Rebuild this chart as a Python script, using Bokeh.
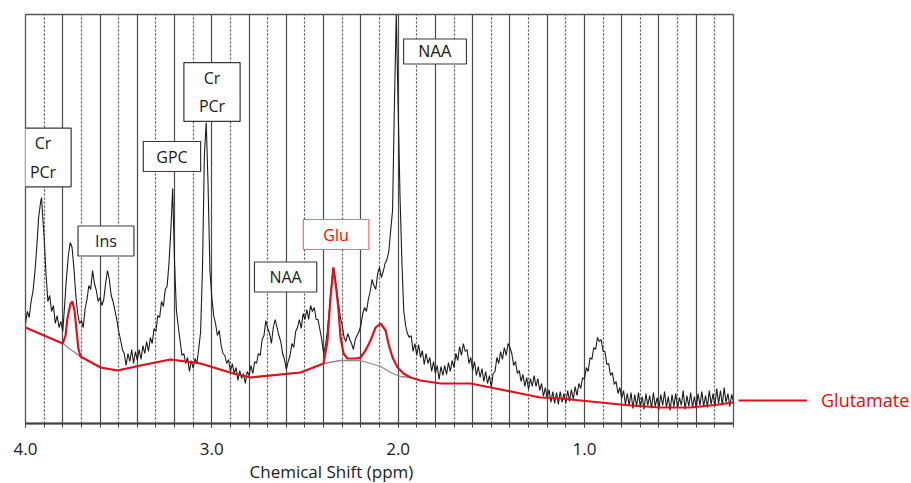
from bokeh.plotting import figure
from bokeh.models import Range1d, FixedTicker, Grid, Label, Legend, LegendItem, PrintfTickFormatter, Title
from bokeh.embed import file_html
from bokeh.resources import INLINE

# ---------------- data ----------------
# (chemical shift in ppm, signal intensity in arbitrary units)
spectrum_points = [
    (4.00, 100), (3.99, 112), (3.98, 106), (3.97, 122), (3.96, 132), (3.95, 150), (3.94, 175),
    (3.93, 205), (3.92, 220), (3.914, 226), (3.91, 214), (3.90, 186), (3.89, 150), (3.88, 122),
    (3.87, 128), (3.86, 112), (3.85, 118), (3.84, 100), (3.83, 108), (3.82, 96), (3.81, 102),
    (3.80, 92), (3.79, 118), (3.78, 146), (3.77, 168), (3.76, 181), (3.75, 176), (3.74, 155),
    (3.73, 128), (3.72, 110), (3.71, 100), (3.70, 103), (3.69, 96), (3.68, 115), (3.67, 124),
    (3.66, 138), (3.65, 134), (3.64, 153), (3.63, 140), (3.62, 133), (3.61, 122), (3.60, 126),
    (3.59, 118), (3.58, 124), (3.57, 140), (3.56, 153), (3.55, 144), (3.54, 128), (3.53, 122),
    (3.52, 113), (3.51, 104), (3.50, 92), (3.49, 84), (3.48, 74), (3.47, 70), (3.46, 58),
    (3.45, 70), (3.44, 62), (3.43, 74), (3.42, 60), (3.41, 72), (3.40, 63), (3.39, 74),
    (3.38, 64), (3.37, 78), (3.36, 70), (3.35, 82), (3.34, 72), (3.33, 86), (3.32, 80),
    (3.31, 95), (3.30, 92), (3.29, 108), (3.28, 106), (3.27, 122), (3.26, 117), (3.25, 134),
    (3.24, 137), (3.23, 160), (3.22, 193), (3.21, 235), (3.20, 161), (3.19, 113), (3.18, 97),
    (3.17, 82), (3.16, 68), (3.15, 70), (3.14, 60), (3.13, 66), (3.12, 52), (3.11, 63),
    (3.10, 55), (3.09, 65), (3.08, 60), (3.07, 75), (3.06, 92), (3.05, 156), (3.04, 268),
    (3.03, 301), (3.02, 238), (3.01, 153), (3.00, 126), (2.99, 108), (2.98, 100), (2.97, 88),
    (2.96, 93), (2.95, 78), (2.94, 70), (2.93, 68), (2.92, 60), (2.91, 64), (2.90, 52),
    (2.89, 60), (2.88, 50), (2.87, 56), (2.86, 43), (2.85, 53), (2.84, 45), (2.83, 50),
    (2.82, 40), (2.81, 52), (2.80, 48), (2.79, 58), (2.78, 50), (2.77, 62), (2.76, 60),
    (2.75, 70), (2.74, 68), (2.73, 84), (2.72, 88), (2.71, 103), (2.70, 95), (2.69, 90),
    (2.68, 80), (2.67, 96), (2.66, 104), (2.65, 96), (2.64, 88), (2.63, 82), (2.62, 70),
    (2.61, 64), (2.60, 54), (2.59, 62), (2.58, 68), (2.57, 80), (2.56, 76), (2.55, 92),
    (2.54, 96), (2.53, 104), (2.52, 95), (2.51, 110), (2.50, 104), (2.49, 114), (2.48, 104),
    (2.47, 118), (2.46, 112), (2.45, 116), (2.44, 104), (2.43, 104), (2.42, 94), (2.41, 84),
    (2.40, 70), (2.39, 78), (2.38, 92), (2.37, 112), (2.36, 133), (2.35, 156), (2.34, 148),
    (2.33, 134), (2.32, 120), (2.31, 106), (2.30, 98), (2.29, 86), (2.28, 82), (2.27, 90),
    (2.26, 84), (2.25, 80), (2.24, 74), (2.23, 84), (2.22, 88), (2.21, 92), (2.20, 98),
    (2.19, 110), (2.18, 116), (2.17, 112), (2.16, 124), (2.15, 132), (2.14, 144), (2.13, 138),
    (2.12, 134), (2.11, 150), (2.10, 156), (2.09, 146), (2.08, 152), (2.07, 160), (2.06, 164),
    (2.05, 172), (2.04, 193), (2.03, 213), (2.02, 318), (2.01, 410), (2.00, 316), (1.99, 228),
    (1.98, 163), (1.97, 113), (1.96, 98), (1.95, 90), (1.94, 86), (1.93, 88), (1.92, 72),
    (1.91, 80), (1.90, 68), (1.89, 79), (1.88, 66), (1.87, 73), (1.86, 59), (1.85, 70),
    (1.84, 60), (1.83, 66), (1.82, 52), (1.81, 62), (1.80, 50), (1.79, 58), (1.78, 44),
    (1.77, 57), (1.76, 48), (1.75, 58), (1.74, 49), (1.73, 61), (1.72, 52), (1.71, 63),
    (1.70, 56), (1.69, 70), (1.68, 63), (1.67, 77), (1.66, 68), (1.65, 80), (1.64, 72),
    (1.63, 74), (1.62, 60), (1.61, 66), (1.60, 53), (1.59, 62), (1.58, 48), (1.57, 57),
    (1.56, 46), (1.55, 55), (1.54, 42), (1.53, 52), (1.52, 40), (1.51, 48), (1.50, 36),
    (1.49, 50), (1.48, 52), (1.47, 66), (1.46, 60), (1.45, 72), (1.44, 64), (1.43, 76),
    (1.42, 68), (1.41, 80), (1.40, 76), (1.39, 70), (1.38, 58), (1.37, 62), (1.36, 50),
    (1.35, 53), (1.34, 42), (1.33, 49), (1.32, 37), (1.31, 46), (1.30, 34), (1.29, 45),
    (1.28, 37), (1.27, 48), (1.26, 37), (1.25, 45), (1.24, 33), (1.23, 40), (1.22, 27),
    (1.21, 36), (1.20, 25), (1.19, 34), (1.18, 21), (1.17, 32), (1.16, 20), (1.15, 31),
    (1.14, 19), (1.13, 32), (1.12, 21), (1.11, 30), (1.10, 20), (1.09, 33), (1.08, 22),
    (1.07, 34), (1.06, 24), (1.05, 37), (1.04, 28), (1.03, 40), (1.02, 35), (1.01, 46),
    (1.00, 44), (0.99, 56), (0.98, 52), (0.97, 66), (0.96, 64), (0.95, 76), (0.94, 74),
    (0.93, 86), (0.92, 82), (0.91, 84), (0.90, 72), (0.89, 72), (0.88, 59), (0.87, 60),
    (0.86, 48), (0.85, 51), (0.84, 39), (0.83, 42), (0.82, 30), (0.81, 36), (0.80, 25),
    (0.79, 33), (0.78, 19), (0.77, 30), (0.76, 18), (0.75, 31), (0.74, 15), (0.73, 29),
    (0.72, 17), (0.71, 31), (0.70, 16), (0.69, 27), (0.68, 14), (0.67, 30), (0.66, 18),
    (0.65, 28), (0.64, 15), (0.63, 31), (0.62, 17), (0.61, 26), (0.60, 14), (0.59, 29),
    (0.58, 18), (0.57, 32), (0.56, 16), (0.55, 27), (0.54, 13), (0.53, 29), (0.52, 17),
    (0.51, 30), (0.50, 15), (0.49, 26), (0.48, 18), (0.47, 33), (0.46, 14), (0.45, 28),
    (0.44, 17), (0.43, 31), (0.42, 16), (0.41, 27), (0.40, 15), (0.39, 30), (0.38, 18),
    (0.37, 32), (0.36, 17), (0.35, 28), (0.34, 16), (0.33, 33), (0.32, 19), (0.31, 30),
    (0.30, 17), (0.29, 35), (0.28, 20), (0.27, 33), (0.26, 18), (0.25, 36), (0.24, 21),
    (0.23, 30), (0.22, 17), (0.21, 29), (0.20, 22),
]
ppm = [pt[0] for pt in spectrum_points]
spectrum = [pt[1] for pt in spectrum_points]

fit_ppm = [4.00, 3.80, 3.785, 3.775, 3.758, 3.748, 3.737, 3.726, 3.716, 3.705, 3.597, 3.506,
           3.383, 3.222, 3.061, 2.884, 2.792, 2.524, 2.400, 2.379, 2.363, 2.347, 2.331, 2.320,
           2.309, 2.293, 2.272, 2.229, 2.202, 2.175, 2.148, 2.121, 2.094, 2.067, 2.052, 2.030,
           2.003, 1.971, 1.933, 1.880, 1.772, 1.611, 1.504, 1.343, 1.236, 1.128, 1.021, 0.914,
           0.753, 0.592, 0.431, 0.323, 0.200]
fit = [96, 80, 88, 105, 120, 122, 113, 93, 75, 67, 56, 53,
       58, 64, 60, 50, 46, 51, 60, 83, 126, 156, 133, 113,
       86, 70, 65, 65, 66, 73, 83, 96, 100, 93, 80, 66,
       56, 50, 46, 43, 40, 40, 36, 30, 26, 25, 23, 21,
       18, 16, 16, 18, 21]

base_ppm = [4.00, 3.80, 3.758, 3.705, 3.597, 3.506, 3.383, 3.222, 3.061, 2.884, 2.792, 2.524,
            2.400, 2.309, 2.282, 2.202, 2.094, 2.030, 1.987, 1.933]
base = [96, 80, 74, 67, 56, 53, 58, 64, 60, 50, 46, 51,
        60, 63, 63, 63, 57, 50, 47, 46]

peak_labels = ["Cr\nPCr", "GPC", "Cr\nPCr", "Ins", "NAA", "Glu", "NAA"]
label_ppm = [3.906, 3.214, 2.999, 3.568, 2.604, 2.333, 1.802]
label_int = [266, 267, 331.5, 182.5, 146.5, 189, 372]

major_ticks = [4.0, 3.0, 2.0, 1.0]
solid_grid = [4.0, 3.8, 3.6, 3.4, 3.2, 3.0, 2.8, 2.6, 2.4, 2.2, 2.0, 1.8, 1.6, 1.4, 1.2,
              1.0, 0.8, 0.6, 0.4, 0.2]
dotted_grid = [3.9, 3.7, 3.5, 3.3, 3.1, 2.9, 2.7, 2.5, 2.3, 2.1, 1.9, 1.7, 1.5, 1.3, 1.1,
               0.9, 0.7, 0.5, 0.3]
x_title = "Chemical Shift (ppm)"
legend_label = "Glutamate"

# ---------------- figure ----------------
p = figure(frame_width=708, frame_height=409,
           x_range=Range1d(4.0, 0.2), y_range=Range1d(0, 409),
           output_backend="svg", toolbar_location=None, y_axis_location=None,
           min_border_left=25, min_border_right=178, min_border_top=14, min_border_bottom=10)
p.background_fill_color = "white"
p.border_fill_color = "white"
p.outline_line_color = "#555555"
p.outline_line_width = 1.3

p.ygrid.visible = False
p.xgrid.ticker = FixedTicker(ticks=solid_grid)
p.xgrid.grid_line_color = "#4a4a4a"
p.xgrid.grid_line_width = 1.2
dot = Grid(dimension=0, ticker=FixedTicker(ticks=dotted_grid),
           grid_line_color="#4a4a4a", grid_line_dash="2 2", grid_line_width=1.2)
p.add_layout(dot)

ax = p.xaxis[0]
ax.ticker = FixedTicker(ticks=major_ticks, minor_ticks=solid_grid + dotted_grid)
ax.formatter = PrintfTickFormatter(format="%.1f")
ax.axis_line_width = 2
ax.axis_line_color = "#444444"
ax.major_tick_in = 0
ax.major_tick_out = 4
ax.minor_tick_in = 0
ax.minor_tick_out = 4
ax.major_tick_line_color = "#444444"
ax.minor_tick_line_color = "#444444"
ax.major_label_standoff = 15
ax.major_label_text_font = "Open Sans"
ax.major_label_text_font_size = "17px"
ax.major_label_text_color = "#1a1a1a"

p.line(ppm, spectrum, line_color="#1a1a1a", line_width=1.1)
p.line(base_ppm, base, line_color="#8a8a8a", line_width=1.3)
red = p.line(fit_ppm, fit, line_color="#e3101a", line_width=2.2)

for i, txt in enumerate(peak_labels):
    is_glu = txt == "Glu"
    hp = {"Cr\nPCr": 15, "GPC": 13, "Ins": 17, "NAA": 15, "Glu": 20}[txt]
    lab = Label(x=label_ppm[i], y=label_int[i], text=txt,
                text_align="center", text_baseline="middle",
                text_font="Liberation Sans" if i == 6 else "Open Sans",
                text_font_size="16px", text_line_height=1.3,
                text_color="#ff0000" if is_glu else "#1a1a1a",
                background_fill_color="white",
                border_line_color="#ff6a6a" if is_glu else "#3a3a3a",
                border_line_width=1.2, padding=(hp, 4))
    p.add_layout(lab)

p.add_layout(Title(text=x_title, align="left", offset=224, text_font="Open Sans",
                   text_font_size="17px", text_font_style="normal", text_color="#1a1a1a",
                   standoff=0), "below")

legend = Legend(items=[LegendItem(label=legend_label, renderers=[red])],
                location=(5, 11), glyph_width=69, glyph_height=20, label_standoff=14,
                label_text_color="#ff0000", label_text_font="Open Sans",
                label_text_font_size="18px", border_line_alpha=0,
                background_fill_alpha=0, padding=0, margin=0, spacing=0)
p.add_layout(legend, "right")

open("out.html", "w").write(file_html(p, INLINE))
